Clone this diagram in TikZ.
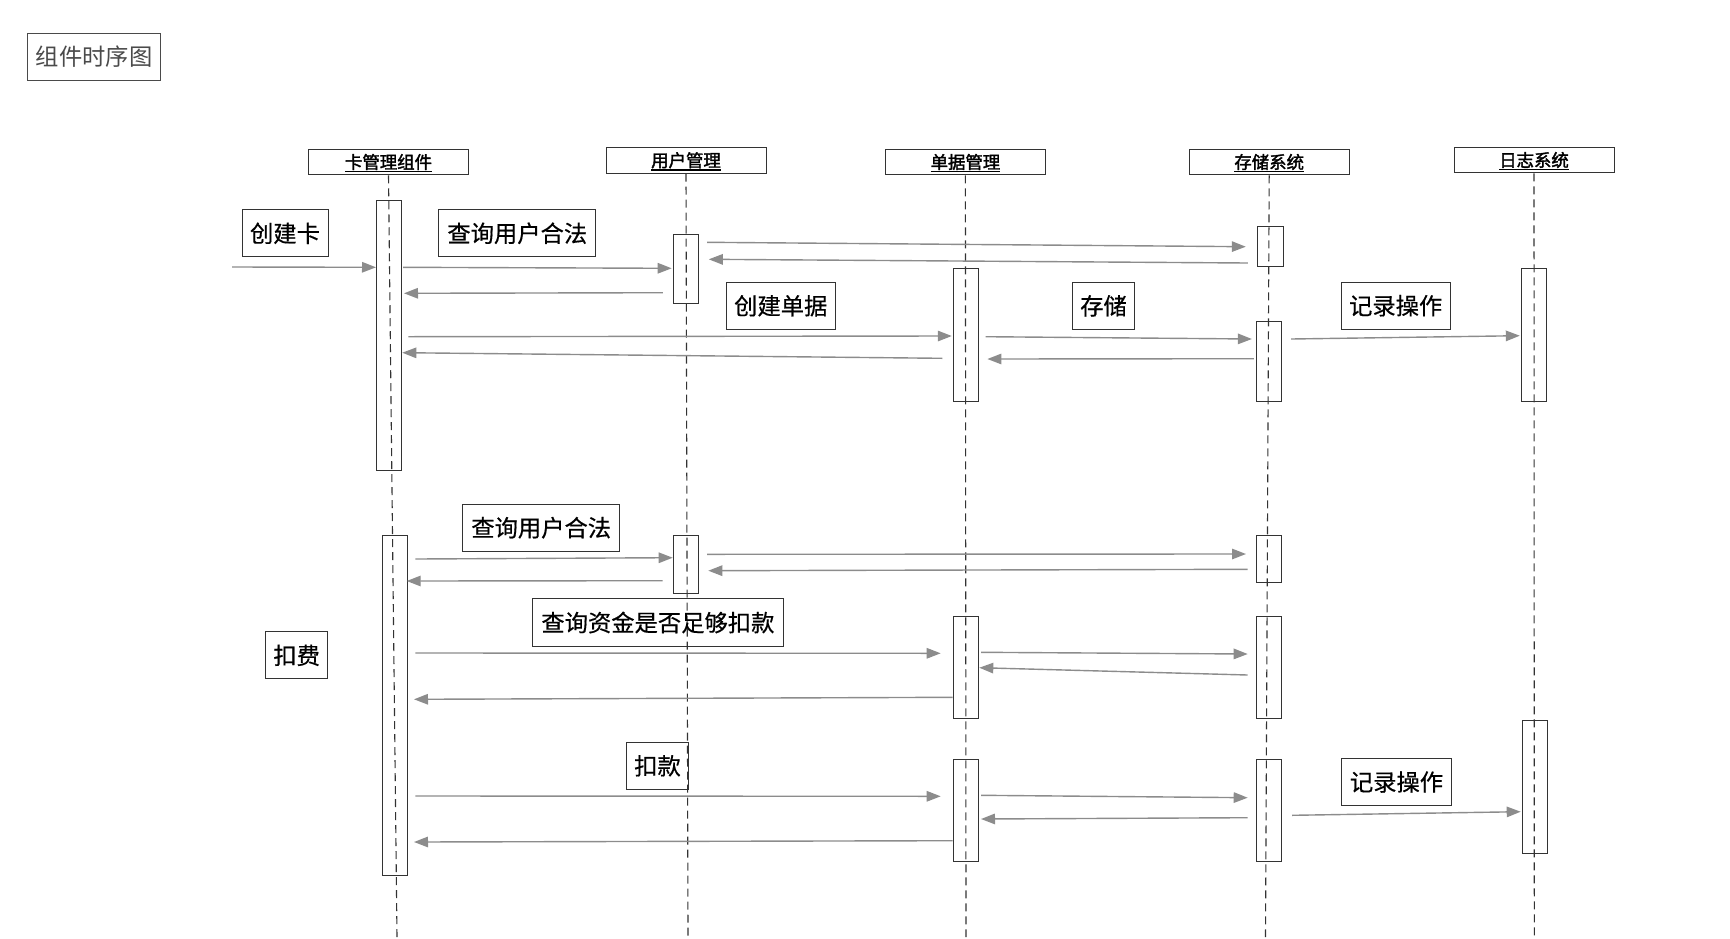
\documentclass[tikz,border=0pt]{standalone}
\usepackage{fontspec}
\setmainfont{Noto Sans CJK SC}
\newfontfamily\cjkbold[FakeBold=2]{Noto Sans CJK SC}
\newfontfamily\cjklbl[FakeBold=0.5]{Noto Sans CJK SC}
\usetikzlibrary{arrows.meta}
\definecolor{edgecol}{HTML}{333333}
\definecolor{msgcol}{HTML}{8C8C8C}
\definecolor{titlecol}{HTML}{4A4A4A}
\newcommand\hdrtext[1]{\setbox0\hbox{\cjkbold\fontsize{17.4}{20}\selectfont #1}\rlap{\smash{\rule[-3.6pt]{\wd0}{1.4pt}}}\box0}
\begin{document}
\begin{tikzpicture}[x=1pt,y=-1pt,
  titlebox/.style={draw=titlecol,line width=1pt,inner sep=0pt,minimum height=47.4pt,text=titlecol,font=\fontsize{23.3}{28}\selectfont},
  hdr/.style={draw=edgecol,line width=1pt,inner sep=0pt,minimum width=160pt,minimum height=25.5pt},
  lbl/.style={draw=edgecol,line width=1pt,inner sep=0pt,minimum height=47.3pt,font=\cjklbl\fontsize{23.3}{28}\selectfont},
  act/.style={draw=edgecol,line width=1pt,inner sep=0pt,minimum width=25.2pt},
  life/.style={draw=edgecol,line width=1.1pt,dash pattern=on 8pt off 5pt},
  msg/.style={draw=msgcol,line width=1.4pt,-{Triangle[length=14pt,width=10.5pt]}}]
\useasboundingbox (0,0) rectangle (1730,938);
% title
\node[titlebox,minimum width=133pt] (title) at (94.2,57) {组件时序图};
% headers
\node[hdr] (H1) at (388.5,162) {\hdrtext{卡管理组件}};
\node[hdr] (H2) at (686,160.3) {\hdrtext{用户管理}};
\node[hdr] (H3) at (965.4,162) {\hdrtext{单据管理}};
\node[hdr] (H4) at (1269.2,162) {\hdrtext{存储系统}};
\node[hdr] (H5) at (1534,160) {\hdrtext{日志系统}};
% lifeline ends
\coordinate (E1) at (397,937);
\coordinate (E2) at (688,937);
\coordinate (E3) at (966,937);
\coordinate (E4) at (1265.5,937);
\coordinate (E5) at (1534.3,937);
\draw[life] (H1.south) -- (E1);
\draw[life] (H2.south) -- (E2);
\draw[life] (H3.south) -- (E3);
\draw[life] (H4.south) -- (E4);
\draw[life] (H5.south) -- (E5);
% activations
\node[act,minimum height=270.7pt] (A1) at (388.9,335.35) {};
\node[act,minimum height=68.7pt] (U1) at (685.9,268.65) {};
\node[act,minimum height=40pt] (S1) at (1270.5,246.3) {};
\node[act,minimum height=133.4pt] (D1) at (965.8,335) {};
\node[act,minimum height=80pt] (S2) at (1269,361.7) {};
\node[act,minimum height=133pt] (L1) at (1534,335.2) {};
\node[act,minimum height=340pt] (A2) at (395.2,705.3) {};
\node[act,minimum height=57.7pt] (U2) at (686,564.15) {};
\node[act,minimum height=47pt] (S3) at (1269.2,558.8) {};
\node[act,minimum height=102.4pt] (D2) at (965.8,667.5) {};
\node[act,minimum height=102.4pt] (S4) at (1269.2,667.5) {};
\node[act,minimum height=133.3pt] (L2) at (1534.6,786.65) {};
\node[act,minimum height=102.4pt] (D3) at (965.8,810.5) {};
\node[act,minimum height=102.4pt] (S5) at (1269.2,810.5) {};
% labels
\node[lbl,minimum width=86pt] (t1) at (285,233.3) {创建卡};
\node[lbl,minimum width=157.3pt] (t2) at (517.3,233.3) {查询用户合法};
\node[lbl,minimum width=109.5pt] (t3) at (780.8,305.8) {创建单据};
\node[lbl,minimum width=62.2pt] (t4) at (1103.5,305.8) {存储};
\node[lbl,minimum width=109.3pt] (t5) at (1395.7,305.7) {记录操作};
\node[lbl,minimum width=157pt] (t6) at (541.2,527.7) {查询用户合法};
\node[lbl,minimum width=251.7pt] (t7) at (657.9,622.5) {查询资金是否足够扣款};
\node[lbl,minimum width=62pt] (t8) at (296.7,655.3) {扣费};
\node[lbl,minimum width=61.6pt] (t9) at (657.5,765.8) {扣款};
\node[lbl,minimum width=109.6pt] (t10) at (1396.5,782) {记录操作};
% messages
\foreach \i/\xa/\ya/\xb/\yb in {
  1/232/267/376/267.3,
  2/403/267.3/671.7/268.3,
  3/707/242.3/1245.8/246.7,
  4/1247.8/263/708.8/259.3,
  5/662.9/292.7/404/293.3,
  6/408.3/336.7/951.8/336,
  7/942.3/358.3/402.3/352.7,
  8/985.5/336.7/1251.9/339,
  9/1253.9/358.7/987.4/359,
  10/1291.2/339/1519.8/335.7,
  11/415.3/559/672.7/557.7,
  12/707/554.3/1246/554,
  13/1247.7/569.3/708.3/570.7,
  14/662.7/580.7/406.7/581,
  15/415.3/653/940.7/653.3,
  16/981/652.3/1247.7/654,
  17/1247.7/675/979.3/667.7,
  18/952.7/697.3/414/699.3,
  19/415.3/796/940.7/796.3,
  20/981/795.3/1247.7/797.7,
  21/1247.7/817.7/981/819,
  22/952.7/840.7/414/842,
  23/1292/815.3/1520.7/811.7}{
  \coordinate (m\i s) at (\xa,\ya);
  \coordinate (m\i e) at (\xb,\yb);
  \draw[msg] (m\i s) -- (m\i e);
}
\end{tikzpicture}
\end{document}
